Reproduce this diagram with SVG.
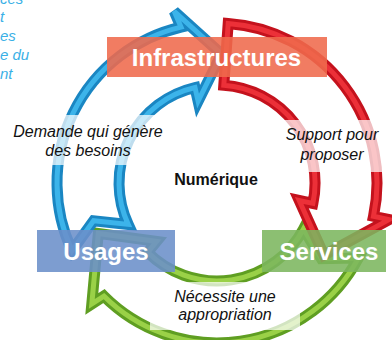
<svg xmlns="http://www.w3.org/2000/svg" width="392" height="340" viewBox="0 0 392 340">
<style>
.base{stroke-width:11;stroke-linejoin:miter;fill:#ffffff}
.hi{stroke-width:5;stroke-linejoin:miter;fill:none}
.band{fill:#ffffff;opacity:0.72}
.box{opacity:0.88}
.boxt{font-family:"Liberation Sans",Arial,sans-serif;font-weight:bold;font-size:24px;fill:#ffffff;text-anchor:middle}
.lbl{font-family:"Liberation Sans",Arial,sans-serif;font-style:italic;font-size:16px;fill:#111111;text-anchor:middle}
.frag{font-family:"Liberation Sans",Arial,sans-serif;font-style:italic;font-size:15px;fill:#3ab0e6}
</style>
<defs>
<path id="p-green" d="M358.3,258.1 A160,160 0 0,1 103.9,296.1 L91.8,303.9 L98.3,233.4 L156.6,241.4 L147.7,252.3 A98,98 0 0,0 303.5,229 L321.4,258.8 Z"/>
<path id="p-blue" d="M72,250.6 A160,160 0 0,1 181,27.1 L174.2,11.3 L221.5,54.1 L198.1,101.2 L195,87.5 A98,98 0 0,0 128.2,224.4 L93.6,220.7 Z"/>
<path id="p-red" d="M228.2,23.4 A160,160 0 0,1 373.5,216.3 L389.1,219.6 L323.9,255.1 L299.2,200.5 L312.9,203.4 A98,98 0 0,0 223.8,85.2 Z"/>
</defs>
<rect width="392" height="340" fill="#ffffff"/>
<g id="side-text">
<text class="frag" x="0" y="4">ces</text>
<text class="frag" x="0" y="22">t</text>
<text class="frag" x="0" y="41">es</text>
<text class="frag" x="0" y="60">e du</text>
<text class="frag" x="0" y="79">nt</text>
</g>
<g id="connectors">
<use href="#p-green" class="base" stroke="#5f9e22"/>
<use href="#p-green" class="hi" stroke="#9ad147"/>
<use href="#p-blue" class="base" stroke="#1a86c2"/>
<use href="#p-blue" class="hi" stroke="#3cb4ea"/>
<use href="#p-red" class="base" stroke="#c4121d"/>
<use href="#p-red" class="hi" stroke="#ec3038"/>
</g>
<g id="label-demande">
<rect class="band" x="0" y="115" width="176" height="50"/>
<text class="lbl" x="88" y="137">Demande qui génère</text>
<text class="lbl" x="88" y="156">des besoins</text>
</g>
<g id="label-support">
<rect class="band" x="275" y="120" width="117" height="52"/>
<text class="lbl" x="332" y="140">Support pour</text>
<text class="lbl" x="332" y="160">proposer</text>
</g>
<g id="label-necessite">
<rect class="band" x="150" y="282" width="150" height="48"/>
<text class="lbl" x="225" y="302">Nécessite une</text>
<text class="lbl" x="225" y="320">appropriation</text>
</g>
<g id="node-numerique">
<text x="216" y="185" font-family="'Liberation Sans',Arial,sans-serif" font-weight="bold" font-size="16" fill="#111111" text-anchor="middle">Numérique</text>
</g>
<g id="node-infrastructures">
<rect class="box" x="107" y="37" width="220" height="40" fill="#ef6a4c"/>
<text class="boxt" x="216.5" y="66">Infrastructures</text>
</g>
<g id="node-services">
<rect class="box" x="262" y="230" width="124" height="42" fill="#7cb65e"/>
<text class="boxt" x="329" y="260">Services</text>
</g>
<g id="node-usages">
<rect class="box" x="37" y="230" width="138" height="42" fill="#6b8fca"/>
<text class="boxt" x="106" y="260">Usages</text>
</g>
</svg>
